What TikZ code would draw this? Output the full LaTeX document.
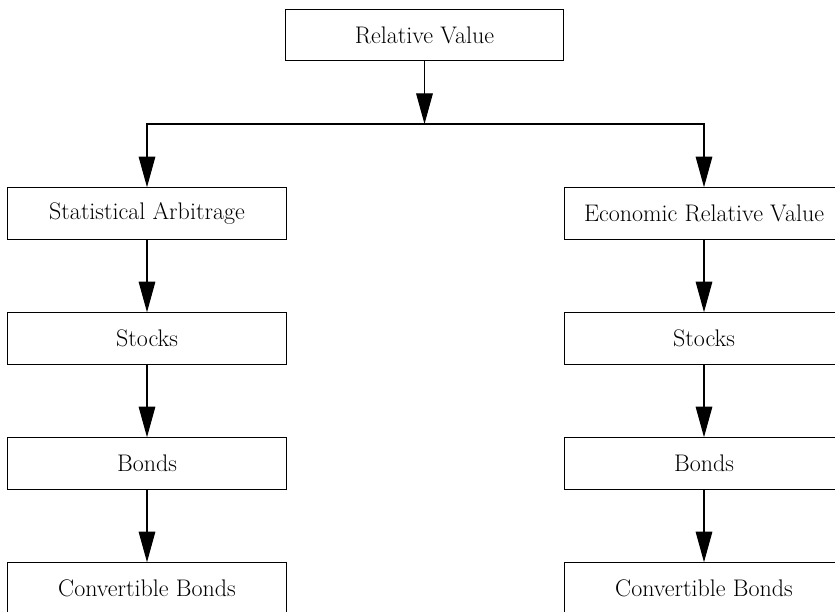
\documentclass[tikz,border=0pt]{standalone}
\usepackage{tikz}
\usetikzlibrary{arrows.meta,positioning}

\begin{document}
\begin{tikzpicture}[
    x=0.75pt,y=0.75pt,
    catbox/.style={draw,line width=0.95pt,minimum width=209pt,minimum height=38.5pt,
                   inner sep=0pt,align=center,font=\fontsize{18pt}{22pt}\selectfont},
    link/.style={line width=0.8pt,-{Triangle[length=23pt,width=12.5pt]}}
  ]
  \useasboundingbox (0,0) rectangle (835,-611);
  \clip (0,0) rectangle (835,-611);
  \node[catbox] (rv) at (424.5,-35) {Relative Value};
  \coordinate (split) at (424.5,-124);
  % left branch
  \node[catbox] (sa)   at (147,-213.5) {Statistical Arbitrage};
  \node[catbox] (sa1)  at (147,-338.5) {Stocks};
  \node[catbox] (sa2)  at (147,-463.5) {Bonds};
  \node[catbox] (sa3)  at (147,-588.5) {Convertible Bonds};
  % right branch
  \node[catbox] (erv)  at (704,-213.5) {Economic Relative Value};
  \node[catbox] (erv1) at (704,-338.5) {Stocks};
  \node[catbox] (erv2) at (704,-463.5) {Bonds};
  \node[catbox] (erv3) at (704,-588.5) {Convertible Bonds};
  \draw[link] (rv) -- (split);
  \draw[link] (split) -| (sa);
  \draw[link] (split) -| (erv);
  \draw[link] (sa) -- (sa1);
  \draw[link] (sa1) -- (sa2);
  \draw[link] (sa2) -- (sa3);
  \draw[link] (erv) -- (erv1);
  \draw[link] (erv1) -- (erv2);
  \draw[link] (erv2) -- (erv3);
\end{tikzpicture}
\end{document}
